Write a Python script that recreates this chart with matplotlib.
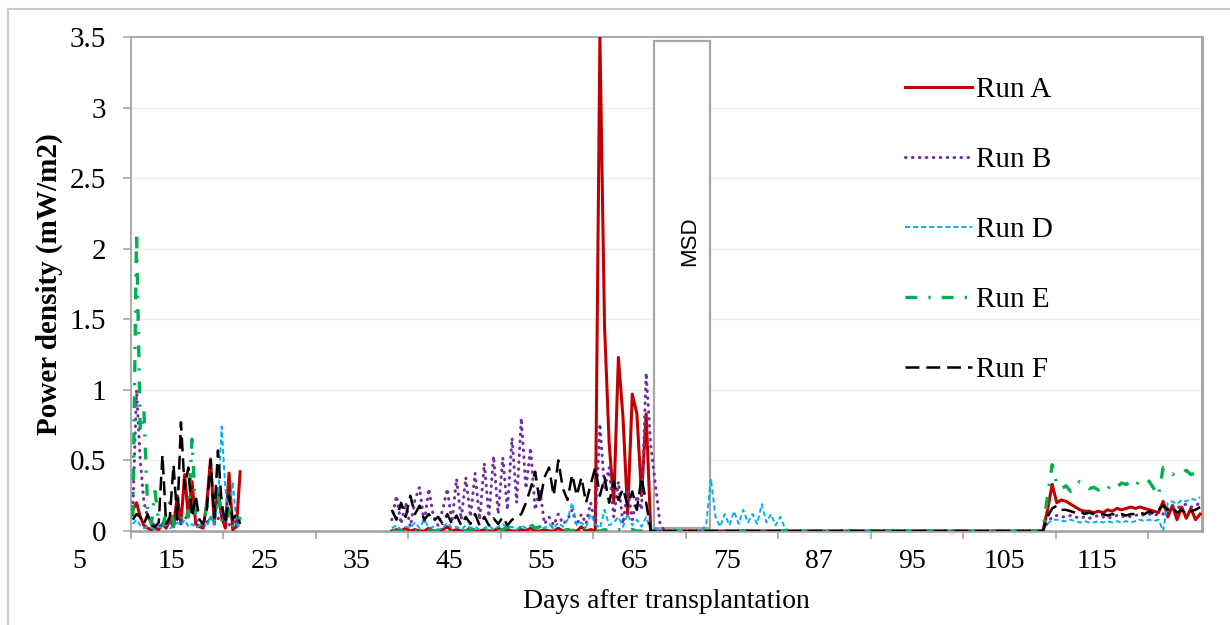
import numpy as np
import matplotlib.pyplot as plt
from matplotlib.patches import Rectangle
from matplotlib.transforms import blended_transform_factory

plt.rcParams["font.family"] = ["Liberation Serif", "DejaVu Serif"]
plt.rcParams["lines.scale_dashes"] = False

# logging periods (days), sampled twice a day or so
x_early = np.arange(10.2, 21.85, 0.4)
x_mid = np.arange(38.2, 66.25, 0.5)
x_post = np.arange(66.7, 82.25, 0.5)
x_flat = [86.0, 92.0, 98.0, 104.0, 108.2]
x_end = np.arange(108.6, 125.65, 0.5)

# Run A
a_early = [0.15, 0.20, 0.10, 0.04, 0.02, 0.01, 0.02, 0.01, 0.05, 0.02,
           0.08, 0.03, 0.25, 0.05, 0.40, 0.10, 0.35, 0.05, 0.03, 0.02,
           0.20, 0.51, 0.05, 0.30, 0.10, 0.02, 0.41, 0.01, 0.03, 0.42]
a_mid = [0.00, 0.01, 0.00, 0.02, 0.00, 0.01, 0.00, 0.00, 0.02, 0.00,
         0.00, 0.01, 0.03, 0.00, 0.01, 0.00, 0.00, 0.02, 0.00, 0.00,
         0.01, 0.00, 0.00, 0.02, 0.00, 0.01, 0.00, 0.00, 0.01, 0.00,
         0.02, 0.00, 0.00, 0.01, 0.00, 0.00, 0.02, 0.00, 0.01, 0.00,
         0.00, 0.03, 0.00, 0.01, 0.00, 3.50, 1.45, 0.62, 0.20, 1.23,
         0.80, 0.12, 0.97, 0.83, 0.25, 0.83, 0.00]
a_post = [0.00, 0.00, 0.00, 0.00, 0.00, 0.00, 0.00, 0.00, 0.00, 0.00,
          0.00, 0.00, 0.00, 0.00, 0.00, 0.00, 0.00, 0.00, 0.00, 0.00,
          0.00, 0.00, 0.00, 0.00, 0.00, 0.00, 0.00, 0.00, 0.00, 0.00,
          0.00, 0.00]
a_flat = [0.00, 0.00, 0.00, 0.00, 0.00]
a_end = [0.00, 0.15, 0.33, 0.20, 0.22, 0.21, 0.19, 0.17, 0.15, 0.14,
         0.14, 0.13, 0.14, 0.13, 0.15, 0.14, 0.16, 0.15, 0.16, 0.17,
         0.16, 0.17, 0.16, 0.15, 0.14, 0.13, 0.21, 0.10, 0.18, 0.08,
         0.17, 0.09, 0.16, 0.08, 0.12]

# Run B
b_early = [0.15, 1.00, 0.50, 0.20, 0.10, 0.06, 0.04, 0.03, 0.05, 0.08,
           0.06, 0.04, 0.10, 0.06, 0.08, 0.12, 0.20, 0.08, 0.05, 0.04,
           0.06, 0.10, 0.05, 0.08, 0.15, 0.06, 0.04, 0.10, 0.03, 0.05]
b_mid = [0.08, 0.25, 0.05, 0.20, 0.03, 0.22, 0.31, 0.05, 0.30, 0.10,
         0.04, 0.15, 0.30, 0.06, 0.37, 0.08, 0.38, 0.10, 0.41, 0.08,
         0.48, 0.10, 0.53, 0.12, 0.52, 0.15, 0.66, 0.20, 0.80, 0.30,
         0.59, 0.15, 0.30, 0.05, 0.10, 0.04, 0.12, 0.05, 0.08, 0.15,
         0.04, 0.12, 0.05, 0.20, 0.05, 0.76, 0.30, 0.45, 0.10, 0.35,
         0.05, 0.30, 0.08, 0.25, 0.15, 1.12, 0.60]
b_post = [0.33, 0.05, 0.00, 0.00, 0.00, 0.00, 0.00, 0.00, 0.00, 0.00,
          0.00, 0.00, 0.00, 0.00, 0.00, 0.00, 0.00, 0.00, 0.00, 0.00,
          0.00, 0.00, 0.00, 0.00, 0.00, 0.00, 0.00, 0.00, 0.00, 0.00,
          0.00, 0.00]
b_flat = [0.00, 0.00, 0.00, 0.00, 0.00]
b_end = [0.00, 0.06, 0.10, 0.11, 0.10, 0.10, 0.11, 0.10, 0.09, 0.10,
         0.09, 0.10, 0.11, 0.10, 0.09, 0.10, 0.11, 0.10, 0.11, 0.10,
         0.11, 0.12, 0.11, 0.12, 0.11, 0.12, 0.12, 0.17, 0.18, 0.16,
         0.18, 0.19, 0.17, 0.18, 0.20]

# Run D
d_early = [0.05, 0.08, 0.04, 0.02, 0.03, 0.02, 0.01, 0.03, 0.02, 0.05,
           0.02, 0.03, 0.06, 0.04, 0.08, 0.03, 0.05, 0.02, 0.04, 0.06,
           0.03, 0.10, 0.05, 0.20, 0.74, 0.30, 0.10, 0.35, 0.05, 0.02]
d_mid = [0.02, 0.04, 0.01, 0.03, 0.02, 0.06, 0.02, 0.08, 0.02, 0.03,
         0.01, 0.02, 0.06, 0.02, 0.03, 0.01, 0.04, 0.02, 0.03, 0.01,
         0.02, 0.04, 0.01, 0.03, 0.05, 0.02, 0.03, 0.01, 0.04, 0.02,
         0.04, 0.01, 0.03, 0.02, 0.05, 0.02, 0.06, 0.03, 0.08, 0.20,
         0.04, 0.06, 0.03, 0.12, 0.05, 0.02, 0.15, 0.04, 0.06, 0.10,
         0.03, 0.12, 0.04, 0.08, 0.03, 0.10, 0.00]
d_post = [0.02, 0.00, 0.00, 0.00, 0.00, 0.00, 0.00, 0.00, 0.00, 0.00,
          0.00, 0.05, 0.37, 0.10, 0.03, 0.12, 0.04, 0.14, 0.05, 0.15,
          0.06, 0.12, 0.05, 0.19, 0.06, 0.12, 0.04, 0.10, 0.02, 0.00,
          0.00, 0.00]
d_flat = [0.00, 0.00, 0.00, 0.00, 0.00]
d_end = [0.00, 0.05, 0.08, 0.08, 0.07, 0.07, 0.08, 0.07, 0.06, 0.07,
         0.06, 0.06, 0.07, 0.06, 0.07, 0.06, 0.07, 0.06, 0.07, 0.06,
         0.07, 0.08, 0.07, 0.08, 0.07, 0.08, 0.00, 0.20, 0.21, 0.19,
         0.22, 0.21, 0.23, 0.22, 0.24]

# Run E
e_early = [0.10, 2.12, 0.70, 0.85, 0.15, 0.05, 0.28, 0.06, 0.04, 0.12,
           0.20, 0.05, 0.03, 0.08, 0.15, 0.10, 0.65, 0.10, 0.06, 0.04,
           0.18, 0.05, 0.12, 0.30, 0.08, 0.05, 0.15, 0.04, 0.02, 0.10]
e_mid = [0.00, 0.00, 0.00, 0.00, 0.00, 0.00, 0.00, 0.00, 0.00, 0.00,
         0.00, 0.01, 0.00, 0.00, 0.01, 0.00, 0.00, 0.00, 0.01, 0.00,
         0.00, 0.01, 0.00, 0.00, 0.01, 0.03, 0.02, 0.04, 0.02, 0.03,
         0.05, 0.02, 0.03, 0.04, 0.02, 0.03, 0.01, 0.00, 0.01, 0.00,
         0.02, 0.04, 0.01, 0.00, 0.00, 0.00, 0.01, 0.00, 0.00, 0.01,
         0.00, 0.00, 0.01, 0.00, 0.00, 0.01, 0.00]
e_post = [0.00, 0.00, 0.00, 0.00, 0.00, 0.00, 0.00, 0.00, 0.00, 0.00,
          0.00, 0.00, 0.00, 0.00, 0.00, 0.00, 0.00, 0.00, 0.00, 0.00,
          0.00, 0.00, 0.00, 0.00, 0.00, 0.00, 0.00, 0.00, 0.00, 0.00,
          0.00, 0.00]
e_flat = [0.00, 0.00, 0.00, 0.00, 0.00]
e_end = [0.00, 0.25, 0.47, 0.33, 0.30, 0.32, 0.28, 0.33, 0.35, 0.33,
         0.30, 0.31, 0.29, 0.32, 0.30, 0.33, 0.31, 0.34, 0.33, 0.35,
         0.32, 0.36, 0.37, 0.35, 0.30, 0.25, 0.45, 0.43, 0.40, 0.42,
         0.41, 0.43, 0.40, 0.41, 0.39]

# Run F
f_early = [0.08, 0.12, 0.10, 0.05, 0.12, 0.04, 0.03, 0.06, 0.54, 0.05,
           0.10, 0.47, 0.08, 0.77, 0.30, 0.45, 0.10, 0.25, 0.08, 0.05,
           0.15, 0.50, 0.10, 0.57, 0.20, 0.05, 0.25, 0.08, 0.12, 0.05]
f_mid = [0.15, 0.08, 0.20, 0.10, 0.25, 0.12, 0.18, 0.08, 0.12, 0.07,
         0.10, 0.05, 0.12, 0.05, 0.11, 0.04, 0.10, 0.05, 0.12, 0.04,
         0.10, 0.04, 0.09, 0.05, 0.10, 0.04, 0.08, 0.10, 0.12, 0.20,
         0.30, 0.42, 0.20, 0.38, 0.45, 0.25, 0.50, 0.30, 0.22, 0.40,
         0.25, 0.38, 0.20, 0.33, 0.45, 0.25, 0.38, 0.20, 0.35, 0.22,
         0.30, 0.18, 0.28, 0.15, 0.38, 0.20, 0.00]
f_post = [0.00, 0.00, 0.00, 0.00, 0.00, 0.00, 0.00, 0.00, 0.00, 0.00,
          0.00, 0.00, 0.00, 0.00, 0.00, 0.00, 0.00, 0.00, 0.00, 0.00,
          0.00, 0.00, 0.00, 0.00, 0.00, 0.00, 0.00, 0.00, 0.00, 0.00,
          0.00, 0.00]
f_flat = [0.00, 0.00, 0.00, 0.00, 0.00]
f_end = [0.00, 0.10, 0.16, 0.18, 0.15, 0.15, 0.14, 0.13, 0.14, 0.12,
         0.13, 0.12, 0.11, 0.12, 0.11, 0.12, 0.11, 0.12, 0.11, 0.12,
         0.12, 0.13, 0.12, 0.14, 0.12, 0.15, 0.18, 0.15, 0.17, 0.13,
         0.15, 0.12, 0.14, 0.15, 0.17]

# axis labelling
y_ticks = [0, 0.5, 1, 1.5, 2, 2.5, 3, 3.5]
x_tick_marks = [10, 20, 30, 40, 50, 60, 70, 80, 90, 100, 110, 120]
x_label_days = [5, 15, 25, 35, 45, 55, 65, 75, 85, 95, 105, 115]
x_label_text = ["5", "15", "25", "35", "45", "55", "65", "75", "87", "95", "105", "115"]

# maintenance shutdown period
msd_start, msd_end = 66.5, 72.6


def join(early, mid, post, flat, end):
    # gap between the first and second logging period
    return np.concatenate([early, [np.nan], mid, post, flat, end])


x_all = join(x_early, x_mid, x_post, x_flat, x_end)

runs = [
    ("Run A", join(a_early, a_mid, a_post, a_flat, a_end),
     dict(color="#C00000", lw=2.2, ls="-")),
    ("Run B", join(b_early, b_mid, b_post, b_flat, b_end),
     dict(color="#7030A0", lw=2.2, ls=(0, (0.4, 4.6)), dash_capstyle="round")),
    ("Run D", join(d_early, d_mid, d_post, d_flat, d_end),
     dict(color="#00B0F0", lw=1.4, ls=(0, (3.6, 2.2)))),
    ("Run E", join(e_early, e_mid, e_post, e_flat, e_end),
     dict(color="#00B050", lw=2.4, ls=(0, (8.5, 8.0, 1.6, 8.0)))),
    ("Run F", join(f_early, f_mid, f_post, f_flat, f_end),
     dict(color="black", lw=1.8, ls=(0, (10.0, 5.0)))),
]

fig = plt.figure(figsize=(12.3, 6.25), dpi=100)
ax = fig.add_axes([131 / 1230, 1 - 531 / 625, 1071 / 1230, 494 / 625])

for label, y, style in runs:
    ax.plot(x_all, y, label=label, zorder=3, **style)

ax.add_patch(Rectangle((msd_start, 0.02), msd_end - msd_start, 3.45,
                       facecolor="white", edgecolor="#A6A6A6", lw=1.6, zorder=2))
ax.text((msd_start + msd_end) / 2 + 0.9, 2.05, "MSD", rotation=90,
        ha="center", va="center", fontsize=16, family="Liberation Sans", zorder=2.5)

ax.set_xlim(10, 125.8)
ax.set_ylim(0, 3.5)
ax.set_yticks(y_ticks)
ax.set_yticklabels([f"{t:g}" for t in y_ticks])
ax.set_xticks(x_tick_marks)
ax.set_xticklabels([])
ax.tick_params(axis="y", labelsize=21, length=6, width=1.2, color="#A6A6A6", pad=12)
ax.tick_params(axis="x", length=6, width=1.2, color="#A6A6A6")

trans = blended_transform_factory(ax.transData, ax.transAxes)
for d, t in zip(x_label_days, x_label_text):
    ax.text(d - 0.6, -0.062, t, transform=trans, ha="center", va="center",
            fontsize=20, clip_on=False)

ax.set_xlabel("Days after transplantation", fontsize=20, labelpad=32)
ax.set_ylabel("Power density (mW/m2)", fontsize=21, fontweight="bold", labelpad=5)

ax.grid(axis="y", color="#EFEFEF", lw=1)
ax.set_axisbelow(True)
for side in ["left", "top", "right"]:
    ax.spines[side].set_color("#A6A6A6")
    ax.spines[side].set_linewidth(1.3)
ax.spines["bottom"].set_color("#A0A0A0")
ax.spines["bottom"].set_linewidth(1.8)
ax.spines["right"].set_linewidth(2.2)

ax.legend(loc="upper left", bbox_to_anchor=(905 / 1230, 1 - 77 / 625),
          bbox_transform=fig.transFigure, frameon=False, fontsize=21,
          handlelength=2.3, handletextpad=0.15, labelspacing=1.49,
          borderpad=0, borderaxespad=0)

# outer chart border
fig.add_artist(Rectangle((8 / 1230, -0.05), 1.1, 1 - 9 / 625 + 0.05,
                         transform=fig.transFigure, fill=False,
                         edgecolor="#C8C8C8", lw=1.5))

fig.savefig("out.png", dpi=100)
